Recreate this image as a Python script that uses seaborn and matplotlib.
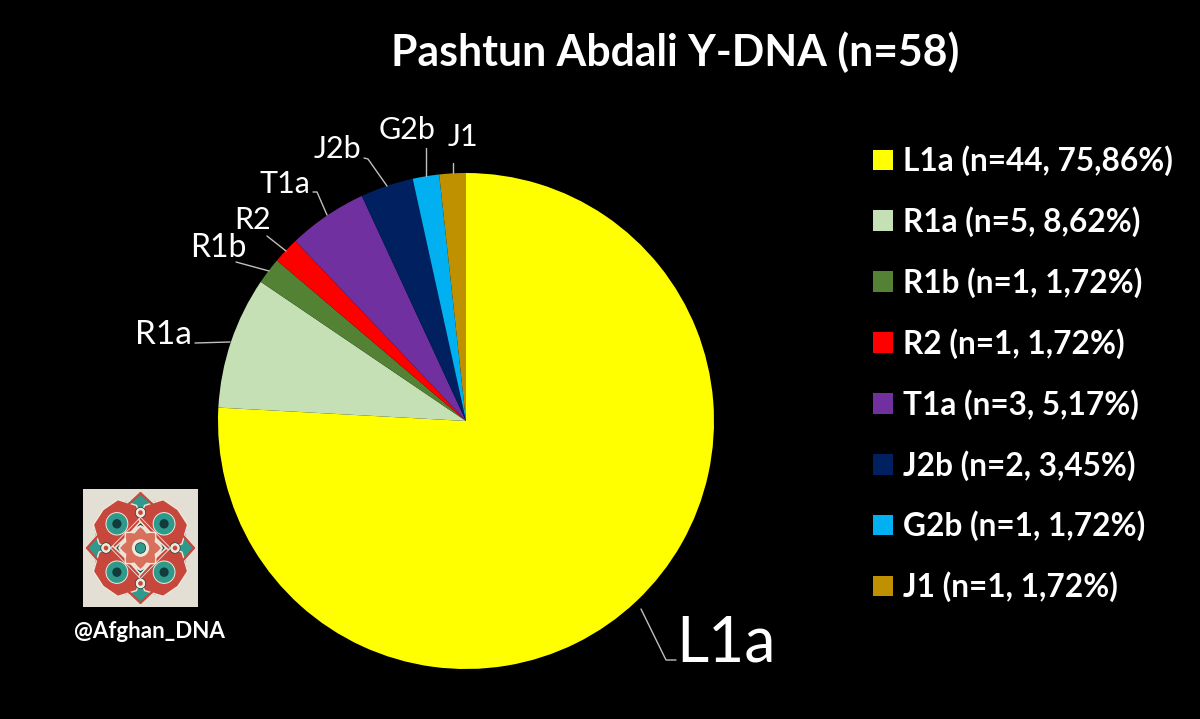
import numpy as np
import matplotlib
matplotlib.use("Agg")
import matplotlib.pyplot as plt
from matplotlib.lines import Line2D
from matplotlib.patches import Patch, Polygon, Circle, Rectangle
import seaborn as sns

categories = ["L1a", "R1a", "R1b", "R2", "T1a", "J2b", "G2b", "J1"]
counts = [44, 5, 1, 1, 3, 2, 1, 1]
shares = ["75,86%", "8,62%", "1,72%", "1,72%", "5,17%", "3,45%", "1,72%", "1,72%"]
colors = ["#FFFF00", "#C5E0B4", "#548235", "#FF0000", "#7030A0", "#002060", "#00B0F0", "#BF9000"]
title = "Pashtun Abdali Y-DNA (n=58)"
handle = "@Afghan_DNA"

sns.set_theme(style="white", rc={"figure.facecolor": "black", "axes.facecolor": "black"})
plt.rcParams["font.family"] = ["Lato", "DejaVu Sans"]
palette = sns.color_palette(colors)

W, H = 1200, 719
fig = plt.figure(figsize=(W / 100, H / 100), dpi=100, facecolor="black")

def fx(x):
    return x / W

def fy(y):
    return 1 - y / H

def box(x0, y0, x1, y1):
    return [fx(x0), fy(y1), (x1 - x0) / W, (y1 - y0) / H]

# pie: centre (466, 421), radius 248 px
ax = fig.add_axes(box(218, 173, 714, 669))
ax.pie(counts, colors=palette, startangle=90, counterclock=False, radius=1,
       wedgeprops={"linewidth": 0})
ax.set_xlim(-1, 1)
ax.set_ylim(-1, 1)
ax.set_aspect("equal")

fig.text(fx(675.5), fy(52), title, color="white", fontsize=30.8, fontweight="bold",
         ha="center", va="center")

# slice labels and leader lines
label_pos = {"L1a": (726, 644, 45), "R1a": (163.5, 335, 24), "R1b": (218.5, 248, 23),
             "R2": (253, 220, 22), "T1a": (285, 184, 22), "J2b": (337, 149, 22),
             "G2b": (407, 130, 22), "J1": (463, 137, 22)}
for name, (x, y, size) in label_pos.items():
    fig.text(fx(x), fy(y), name, color="white", fontsize=size, ha="center", va="center")

leaders = [
    [(195, 343), (230, 342)],
    [(236, 262), (269, 271)],
    [(267, 236), (286, 251)],
    [(313, 192), (317, 192), (327, 215)],
    [(364, 158), (368, 159), (387, 186)],
    [(426, 148), (426, 176)],
    [(453, 163), (453, 173)],
    [(641, 609), (666, 660), (676, 660)],
]
for pts in leaders:
    xs = [fx(p[0]) for p in pts]
    ys = [fy(p[1]) for p in pts]
    fig.add_artist(Line2D(xs, ys, color="#BFBFBF", lw=1.0, transform=fig.transFigure))

# legend
handles = [Patch(facecolor=c, edgecolor="none") for c in palette]
labels = [f"{c} (n={n}, {s})" for c, n, s in zip(categories, counts, shares)]
leg = fig.legend(handles, labels, loc="upper left", bbox_to_anchor=(fx(873), fy(145.5)),
                 frameon=False, ncol=1, prop={"size": 22.8, "weight": "bold", "family": "Lato"},
                 handlelength=0.63, handleheight=0.63, handletextpad=0.32,
                 labelspacing=0.95, borderpad=0, borderaxespad=0)
for t in leg.get_texts():
    t.set_color("white")

# logo
lg = fig.add_axes(box(83, 489, 198, 607))
lg.set_xlim(-1, 1)
lg.set_ylim(-1, 1)
lg.axis("off")
lg.add_patch(Rectangle((-1, -1), 2, 2, color="#E3DFD5", lw=0))
TEAL, RED, DARK, CREAM = "#2F9A8C", "#C8473C", "#123C3C", "#EFE9DC"

def poly(pts, fc, ec=DARK, lw=0.7, z=2):
    lg.add_patch(Polygon(pts, closed=True, facecolor=fc, edgecolor=ec, linewidth=lw, zorder=z))

def rot(pts, deg):
    a = np.deg2rad(deg)
    return [(x * np.cos(a) - y * np.sin(a), x * np.sin(a) + y * np.cos(a)) for x, y in pts]

lg.add_patch(Circle((0, 0), 0.72, fc=DARK, lw=0, zorder=0.5))
kite = [(0, 0.93), (0.36, 0.6), (0.22, 0.3), (0, 0.4), (-0.22, 0.3), (-0.36, 0.6)]
petal = [(0, 0.92), (0.3, 0.86), (0.46, 0.56), (0.36, 0.32), (0, 0.3), (-0.36, 0.32), (-0.46, 0.56), (-0.3, 0.86)]
for k in range(8):
    poly(rot([(0, 0.86), (0.2, 0.72), (0.1, 0.55), (-0.1, 0.55), (-0.2, 0.72)], 22.5 + 45 * k), TEAL, z=1)
for k in range(4):
    poly(rot(kite, 90 * k), TEAL, z=2)
    c = rot([(0, 0.6)], 90 * k)[0]
    lg.add_patch(Circle(c, 0.09, fc=CREAM, ec=DARK, lw=0.5, zorder=4))
    lg.add_patch(Circle(c, 0.04, fc=RED, lw=0, zorder=5))
    for s in (-1, 1):
        p0, p1 = rot([(0, 0.93), (s * 0.36, 0.6)], 90 * k)
        lg.plot([p0[0], p1[0]], [p0[1], p1[1]], color=RED, lw=1.6, zorder=4)
for k in range(4):
    poly(rot(petal, 45 + 90 * k), RED, ec=CREAM, lw=1.0, z=3)
    c = rot([(0, 0.58)], 45 + 90 * k)[0]
    lg.add_patch(Circle(c, 0.19, fc=TEAL, ec=CREAM, lw=0.7, zorder=4))
    lg.add_patch(Circle(c, 0.08, fc=DARK, lw=0, zorder=5))
for r in (0.44, 0.52):
    for j in range(4):
        pts = rot([(0, r), (r, 0)], 90 * j)
        lg.plot([pts[0][0], pts[1][0]], [pts[0][1], pts[1][1]], color=CREAM, lw=0.6, zorder=5)
rosette = []
for k in range(32):
    rr = 0.37 if k % 4 == 0 else (0.32 if k % 2 else 0.28)
    a = 2 * np.pi * k / 32
    rosette.append((rr * np.cos(a), rr * np.sin(a)))
poly(rosette, "#D9705C", ec=CREAM, lw=1.0, z=6)
lg.add_patch(Circle((0, 0), 0.15, fc=CREAM, lw=0, zorder=7))
lg.add_patch(Circle((0, 0), 0.09, fc=TEAL, ec=DARK, lw=0.5, zorder=8))

fig.text(fx(149.5), fy(632), handle, color="white", fontsize=16.1, fontweight="bold",
         ha="center", va="center")

fig.savefig("out.png", dpi=100, facecolor="black")
